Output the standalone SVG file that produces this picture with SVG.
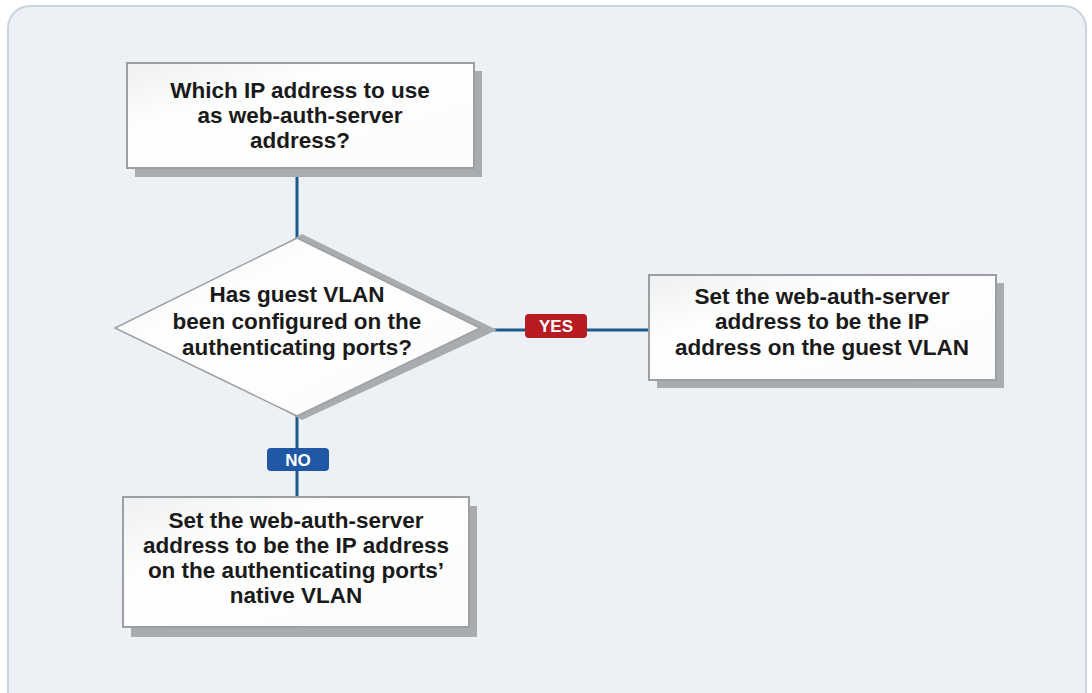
<svg xmlns="http://www.w3.org/2000/svg" width="1092" height="693" viewBox="0 0 1092 693">
<defs>
<linearGradient id="boxfill" x1="0" y1="0" x2="1" y2="1">
<stop offset="0" stop-color="#eef0f1"/>
<stop offset="0.35" stop-color="#ffffff"/>
<stop offset="1" stop-color="#fbfbfb"/>
</linearGradient>
<style>
.panel{fill:#edf1f5;stroke:#c8d5e1;stroke-width:2}
.box{fill:url(#boxfill);stroke:#9c9fa2;stroke-width:2}
.shadow{fill:#a9acaf}
.conn{stroke:#1d5a8c;stroke-width:3;fill:none}
.t{font-family:"Liberation Sans",Arial,sans-serif;font-weight:bold;font-size:22.5px;fill:#1a1a1a;text-anchor:middle}
.badge{font-family:"Liberation Sans",Arial,sans-serif;font-weight:bold;font-size:17px;fill:#ffffff;text-anchor:middle}
</style>
</defs>
<rect width="1092" height="693" fill="#ffffff"/>
<rect class="panel" x="8" y="6" width="1078" height="710" rx="22" ry="22"/>

<g id="connectors">
<line class="conn" x1="297" y1="170" x2="297" y2="240"/>
<line class="conn" x1="494" y1="330" x2="650" y2="330"/>
<line class="conn" x1="297" y1="414" x2="297" y2="498"/>
</g>

<g id="start">
<rect class="shadow" x="135" y="71" width="347" height="106"/>
<rect class="box" x="127" y="63" width="347" height="105"/>
<text class="t" x="300" y="98">Which IP address to use</text>
<text class="t" x="300" y="123">as web-auth-server</text>
<text class="t" x="300" y="148">address?</text>
</g>

<g id="decision">
<polygon class="shadow" points="302,234 497,330 302,420 135,330"/>
<polygon fill="url(#boxfill)" stroke="#9c9fa2" stroke-width="1.5" points="297,238 480,328 297,416 115,328"/>
<text class="t" x="297" y="302">Has guest VLAN</text>
<text class="t" x="297" y="329">been configured on the</text>
<text class="t" x="297" y="355">authenticating ports?</text>
</g>

<g id="yes-label">
<rect x="525" y="314" width="62" height="24" rx="4" ry="4" fill="#b81c22"/>
<text class="badge" x="556" y="332">YES</text>
</g>

<g id="no-label">
<rect x="267" y="448" width="62" height="23" rx="4" ry="4" fill="#2158a6"/>
<text class="badge" x="298" y="466">NO</text>
</g>

<g id="guest-vlan">
<rect class="shadow" x="657" y="283" width="347" height="105"/>
<rect class="box" x="649" y="275" width="347" height="105"/>
<text class="t" x="822" y="304">Set the web-auth-server</text>
<text class="t" x="822" y="329">address to be the IP</text>
<text class="t" x="822" y="355">address on the guest VLAN</text>
</g>

<g id="native-vlan">
<rect class="shadow" x="131" y="506" width="346" height="131"/>
<rect class="box" x="123" y="497" width="346" height="130"/>
<text class="t" x="296" y="528">Set the web-auth-server</text>
<text class="t" x="296" y="553">address to be the IP address</text>
<text class="t" x="296" y="578">on the authenticating ports’</text>
<text class="t" x="296" y="603">native VLAN</text>
</g>
</svg>
